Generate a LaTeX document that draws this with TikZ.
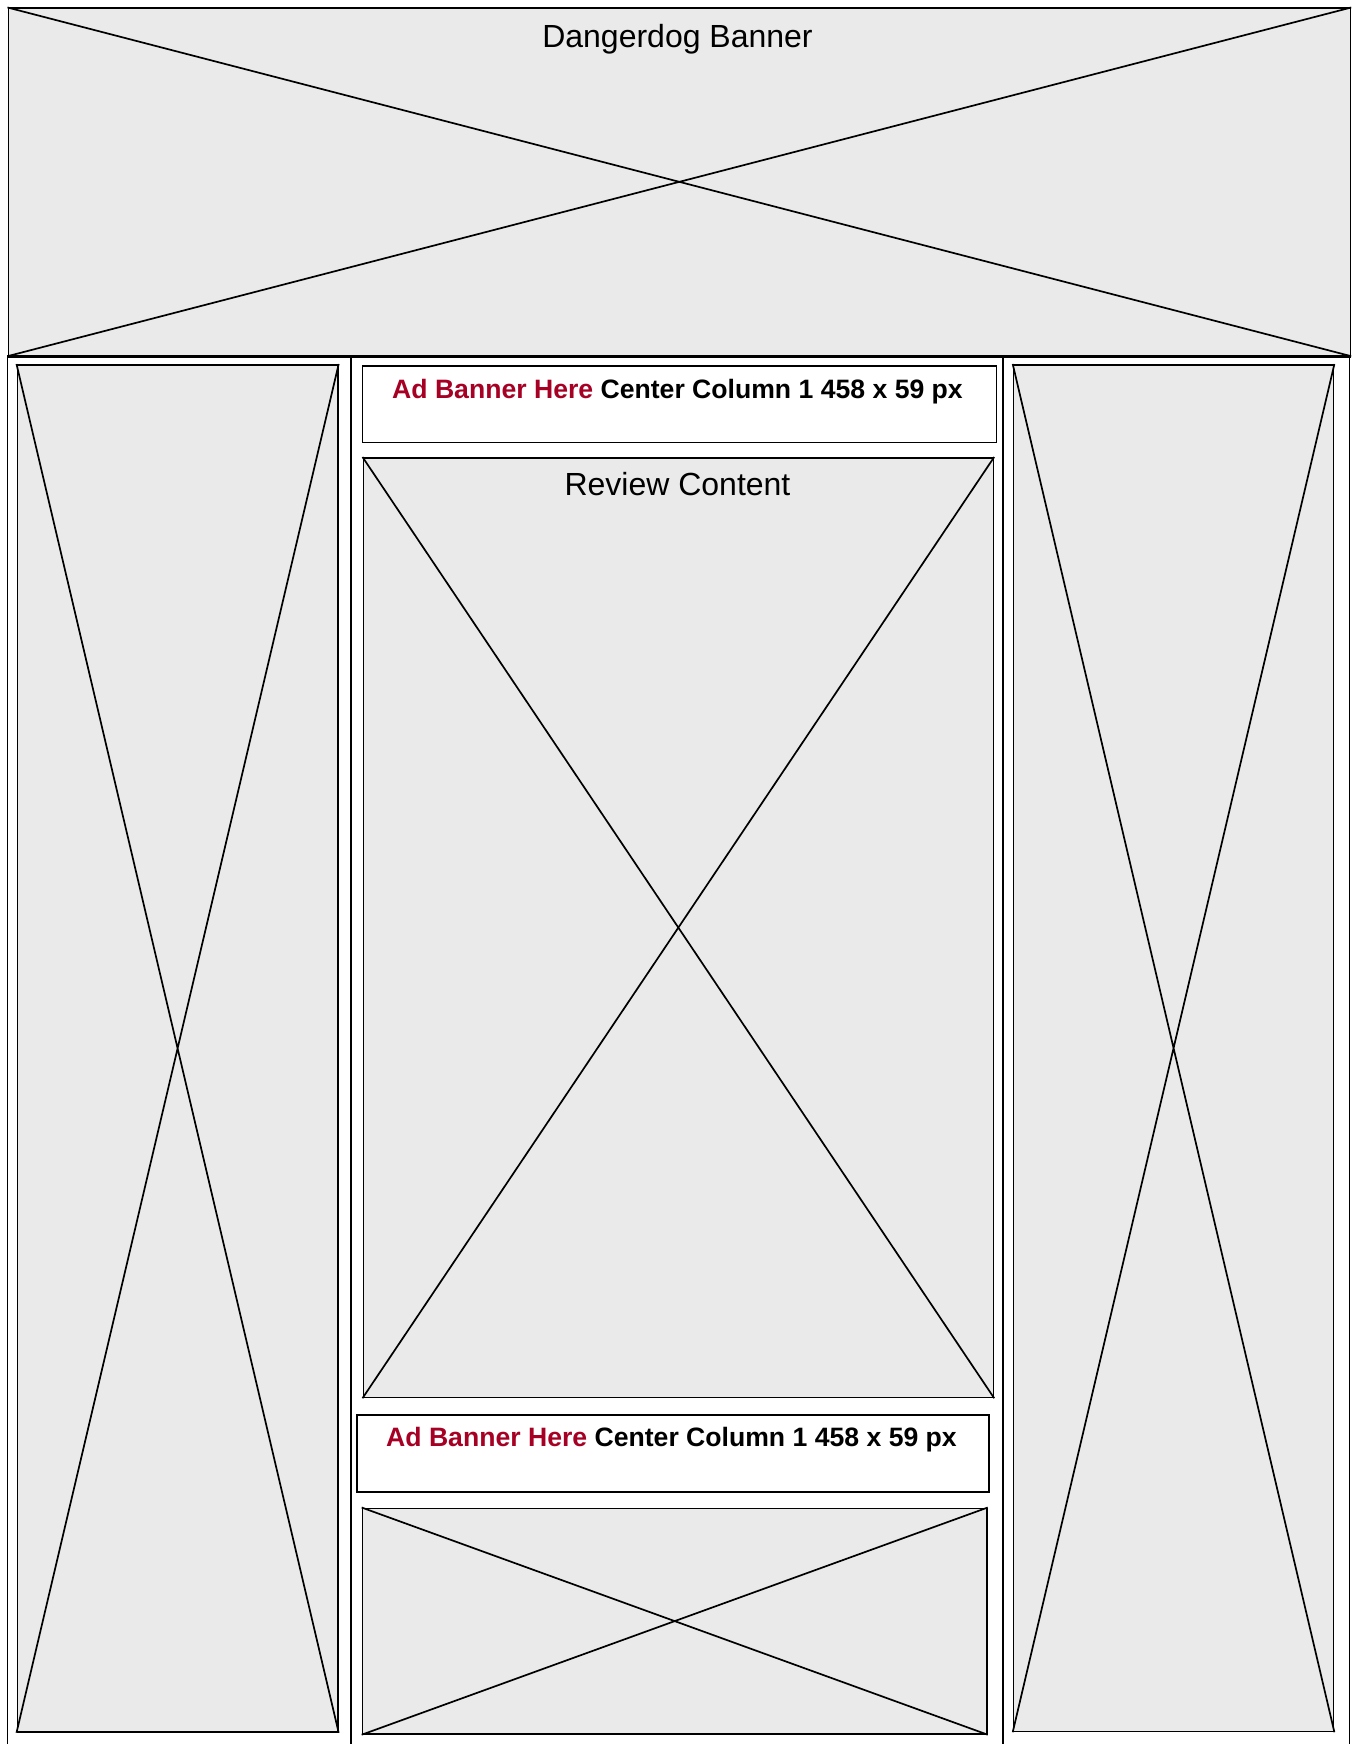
\documentclass[tikz,border=0pt]{standalone}
\usepackage{fontspec}
\setmainfont{Liberation Sans}
\usepackage{xcolor}
\usetikzlibrary{positioning, calc}

\definecolor{adred}{RGB}{166,0,36}
\definecolor{phgray}{RGB}{234,234,234}

\tikzset{
  placeholder/.style={draw, line width=1.7pt, fill=phgray, inner sep=0pt, anchor=north west},
  adbox/.style={draw, line width=1.7pt, fill=white, inner sep=0pt, anchor=north west},
  bigtext/.style={font=\fontsize{32}{38}\selectfont, anchor=base},
  adtext/.style={font=\bfseries\fontsize{26.6}{32}\selectfont, anchor=base},
}

\newcommand{\crossbox}[1]{\draw[line width=1.7pt] (#1.north west) -- (#1.south east) (#1.north east) -- (#1.south west);}

\begin{document}
\begin{tikzpicture}[x=1pt, y=-1pt]
    \useasboundingbox (0,0) rectangle (1355,1744);

    % Banner
    \node[placeholder, minimum width=1342, minimum height=347] (banner) at (7.5,7.5) {};
    \crossbox{banner}
    \draw[line width=3pt] (banner.south west) -- (banner.south east);
    \node[bigtext] (bannerlabel) at (677.5,47.5) {Dangerdog Banner};

    % Colonne
    \draw[line width=1.9pt] (7.5,355) -- (7.5,1744);
    \draw[line width=1.9pt] (1349.5,355) -- (1349.5,1744);
    \draw[line width=2.6pt] (351,355) -- (351,1744);
    \draw[line width=2.6pt] (1003,355) -- (1003,1744);

    % Laterali
    \node[placeholder, minimum width=320.5, minimum height=1367] (leftside) at (16.5,364) {};
    \crossbox{leftside}
    \node[placeholder, minimum width=320, minimum height=1366.5] (rightside) at (1012.7,364) {};
    \crossbox{rightside}

    % Centro
    \node[adbox, minimum width=634, minimum height=76.5] (adtop) at (361.7,365) {};
    \node[adtext] (adtoplabel) at (677.5,398.3) {\textcolor{adred}{Ad Banner Here} Center Column 1 458 x 59 px};

    \node[placeholder, minimum width=630, minimum height=939.5] (review) at (362.5,457) {};
    \crossbox{review}
    \node[bigtext] (reviewlabel) at (677.5,495) {Review Content};

    \node[adbox, minimum width=632, minimum height=77] (adbottom) at (356,1414) {};
    \node[adtext] (adbottomlabel) at (671.5,1446.7) {\textcolor{adred}{Ad Banner Here} Center Column 1 458 x 59 px};

    \node[placeholder, minimum width=624.3, minimum height=225.5] (footer) at (361.7,1507.5) {};
    \crossbox{footer}
\end{tikzpicture}
\end{document}
